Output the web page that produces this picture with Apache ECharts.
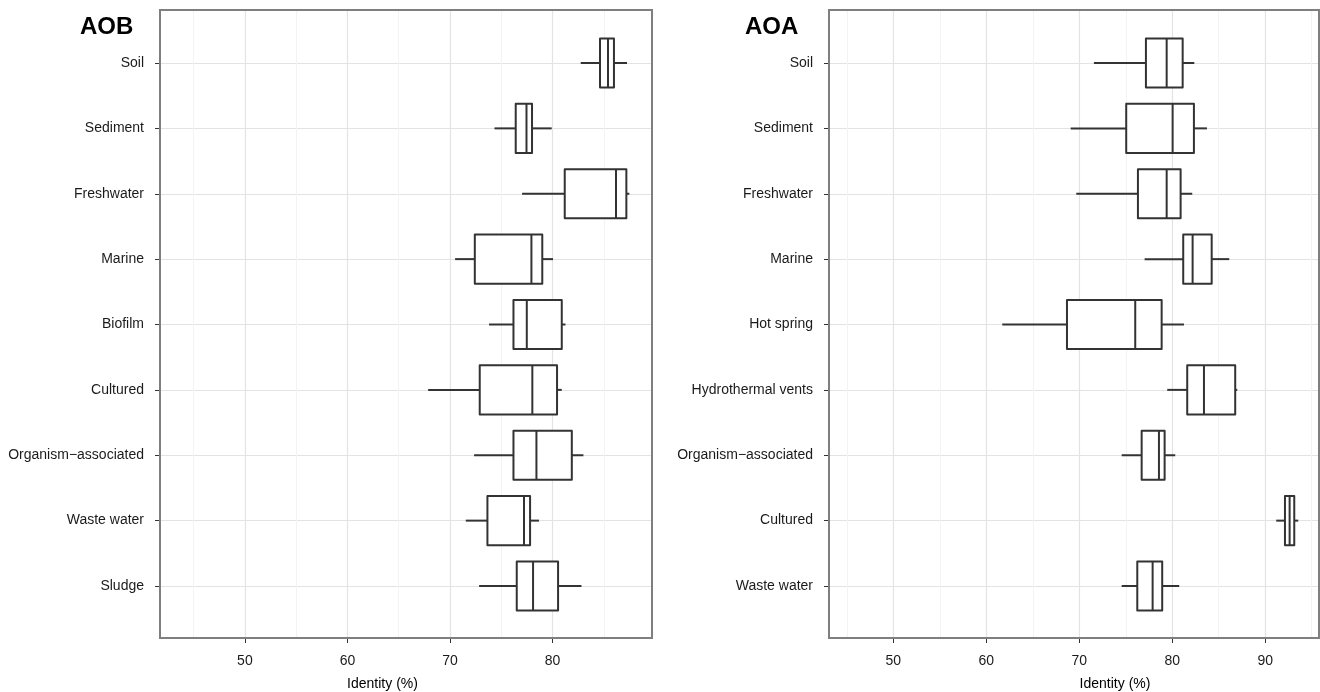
<!DOCTYPE html>
<html>
<head>
<meta charset="utf-8">
<script src="https://cdn.jsdelivr.net/npm/echarts@6/dist/echarts.min.js"></script>
<style>html,body{margin:0;padding:0;background:#fff;}#c{width:1320px;height:692px;}</style>
</head>
<body>
<div id="c"></div>
<script>
// ---- AOB panel data ----
const aobCategories = ['Soil','Sediment','Freshwater','Marine','Biofilm','Cultured','Organism\u2212associated','Waste water','Sludge'];
const aobMin    = [82.75, 74.34, 77.03, 70.50, 73.81, 67.87, 72.35, 71.54, 72.84];
const aobQ1     = [84.63, 76.41, 81.19, 72.42, 76.19, 72.90, 76.19, 73.65, 76.51];
const aobMedian = [85.41, 77.46, 86.19, 77.94, 77.49, 78.03, 78.43, 77.22, 78.10];
const aobQ3     = [85.99, 78.00, 87.20, 79.00, 80.90, 80.44, 81.88, 77.81, 80.54];
const aobMax    = [87.26, 79.92, 87.49, 80.05, 81.26, 80.90, 83.01, 78.68, 82.82];

// ---- AOA panel data ----
const aoaCategories = ['Soil','Sediment','Freshwater','Marine','Hot spring','Hydrothermal vents','Organism\u2212associated','Cultured','Waste water'];
const aoaMin    = [71.58, 69.08, 69.68, 77.03, 61.72, 79.46, 74.56, 91.18, 74.56];
const aoaQ1     = [77.17, 75.05, 76.31, 81.18, 68.68, 81.61, 76.71, 92.12, 76.24];
const aoaMedian = [79.40, 80.04, 79.40, 82.19, 76.02, 83.41, 78.57, 92.62, 77.89];
const aoaQ3     = [81.12, 82.33, 80.90, 84.24, 78.86, 86.77, 79.18, 93.12, 78.92];
const aoaMax    = [82.37, 83.73, 82.15, 86.13, 81.26, 86.99, 80.32, 93.55, 80.75];

// ---- tick labels ----
const aobMajorTicks = [50, 60, 70, 80];
const aobMinorTicks = [45, 55, 65, 75, 85];
const aoaMajorTicks = [50, 60, 70, 80, 90];
const aoaMinorTicks = [45, 55, 65, 75, 85, 95];

const FONT = '"Liberation Sans", Arial, Helvetica, sans-serif';
const STROKE = '#333333';

function buildData(mn, q1, md, q3, mx) {
  return mn.map((v, i) => [i, v, q1[i], md[i], q3[i], mx[i]]);
}

function renderBox(params, api) {
  const idx = api.value(0);
  const vMin = api.value(1), vQ1 = api.value(2), vMed = api.value(3), vQ3 = api.value(4), vMax = api.value(5);
  const pMin = api.coord([vMin, idx]);
  const pQ1 = api.coord([vQ1, idx]);
  const pMed = api.coord([vMed, idx]);
  const pQ3 = api.coord([vQ3, idx]);
  const pMax = api.coord([vMax, idx]);
  const band = api.size([0, 1])[1];
  const half = band * 0.375;
  const y = pMed[1];
  const ls = { stroke: STROKE, lineWidth: 2, fill: null };
  return {
    type: 'group',
    children: [
      { type: 'line', shape: { x1: pMin[0], y1: y, x2: pQ1[0], y2: y }, style: ls },
      { type: 'line', shape: { x1: pQ3[0], y1: y, x2: pMax[0], y2: y }, style: ls },
      { type: 'rect', shape: { x: pQ1[0], y: y - half, width: pQ3[0] - pQ1[0], height: half * 2 },
        style: { stroke: STROKE, lineWidth: 2, fill: '#ffffff', lineJoin: 'round' } },
      { type: 'line', shape: { x1: pMed[0], y1: y - half, x2: pMed[0], y2: y + half }, style: ls }
    ]
  };
}

const panels = [
  { left: 160, width: 492, min: 41.72, max: 89.70, cats: aobCategories, major: aobMajorTicks, minor: aobMinorTicks,
    data: buildData(aobMin, aobQ1, aobMedian, aobQ3, aobMax), namePad: [0, 47, 0, 0] },
  { left: 829, width: 490, min: 43.09, max: 95.78, cats: aoaCategories, major: aoaMajorTicks, minor: aoaMinorTicks,
    data: buildData(aoaMin, aoaQ1, aoaMedian, aoaQ3, aoaMax), namePad: [0, 0, 0, 82] }
];

const grid = [], xAxis = [], yAxis = [], series = [];
panels.forEach((p, k) => {
  const gFrame = grid.length;
  grid.push({ left: p.left, top: 10, width: p.width, height: 628, show: true, borderColor: '#7f7f7f', borderWidth: 2,
              backgroundColor: 'transparent', z: 3, outerBoundsMode: 'none', containLabel: false });
  const gData = grid.length;
  grid.push({ left: p.left, top: 63, width: p.width, height: 523, outerBoundsMode: 'none', containLabel: false });

  // major x axis with labels
  xAxis.push({
    type: 'value', gridIndex: gFrame, min: p.min, max: p.max, position: 'bottom',
    name: 'Identity (%)', nameLocation: 'middle', nameGap: 39,
    nameTextStyle: { fontFamily: FONT, fontSize: 14, color: '#000', padding: p.namePad },
    axisLine: { show: false },
    axisTick: { show: true, length: 5, customValues: p.major, lineStyle: { color: STROKE, width: 1 } },
    axisLabel: { show: true, customValues: p.major, margin: 16, fontFamily: FONT, fontSize: 14, color: '#1a1a1a' },
    splitLine: { show: true, lineStyle: { color: '#e3e3e3', width: 1.2 } },
    z: 1
  });
  // minor grid lines
  xAxis.push({
    type: 'value', gridIndex: gFrame, min: p.min, max: p.max, position: 'bottom',
    axisLine: { show: false },
    axisTick: { show: false, customValues: p.minor },
    axisLabel: { show: false, customValues: p.minor },
    splitLine: { show: true, lineStyle: { color: '#f3f3f3', width: 1 } },
    z: 0
  });
  const xData = xAxis.length;
  xAxis.push({
    type: 'value', gridIndex: gData, min: p.min, max: p.max,
    axisLine: { show: false }, axisTick: { show: false }, axisLabel: { show: false }, splitLine: { show: false }
  });

  yAxis.push({ type: 'value', gridIndex: gFrame, show: false, splitLine: { show: false } });
  const yData = yAxis.length;
  yAxis.push({
    type: 'category', gridIndex: gData, data: p.cats, boundaryGap: false, inverse: true,
    axisLine: { show: false },
    axisTick: { show: true, length: 5, lineStyle: { color: STROKE, width: 1 } },
    axisLabel: { margin: 16, fontFamily: FONT, fontSize: 14, color: '#1a1a1a' },
    splitLine: { show: true, lineStyle: { color: '#e3e3e3', width: 1.2 } }
  });

  series.push({
    type: 'custom', xAxisIndex: xData, yAxisIndex: yData,
    renderItem: renderBox, data: p.data,
    encode: { y: 0, x: [1, 2, 3, 4, 5] }, z: 2, silent: true
  });
});

const chart = echarts.init(document.getElementById('c'), null, { renderer: 'canvas' });
chart.setOption({
  animation: false,
  backgroundColor: '#ffffff',
  title: [
    { text: 'AOB', left: 80, top: 15, padding: 0, textStyle: { fontFamily: FONT, fontSize: 24, fontWeight: 'bold', color: '#000' } },
    { text: 'AOA', left: 745, top: 15, padding: 0, textStyle: { fontFamily: FONT, fontSize: 24, fontWeight: 'bold', color: '#000' } }
  ],
  grid, xAxis, yAxis, series
});
</script>
</body>
</html>
